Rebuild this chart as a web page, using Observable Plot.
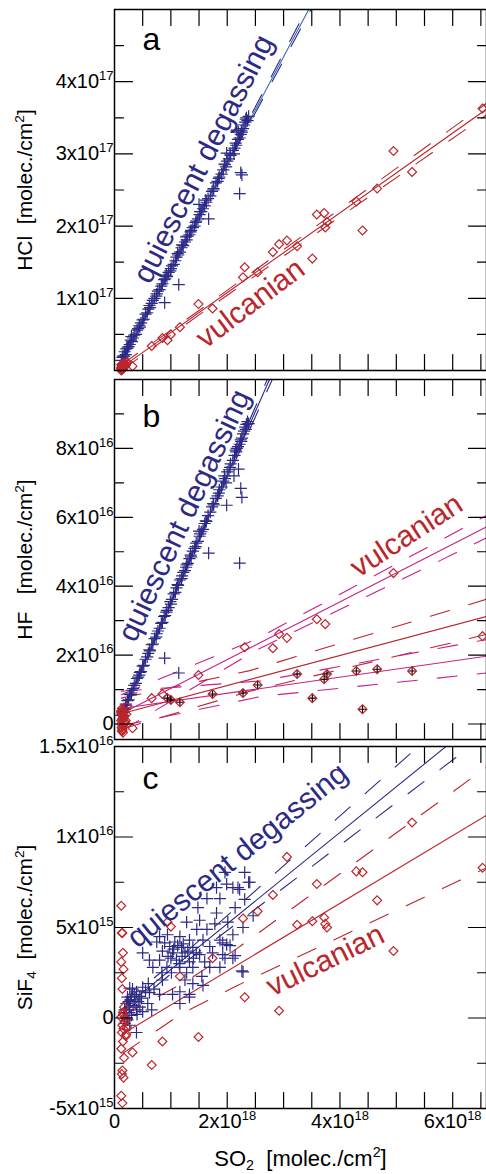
<!DOCTYPE html>
<html><head><meta charset="utf-8">
<script src="https://cdn.jsdelivr.net/npm/d3@7"></script>
<script src="https://cdn.jsdelivr.net/npm/@observablehq/plot@0.6"></script>
<style>
body{margin:0;background:#fff;}
#chart{position:relative;width:486px;height:1174px;}
</style></head><body><div id="chart"></div>
<script>
// ---------- DATA (SO2 in 1e18, HCl in 1e17, HF in 1e16, SiF4 in 1e15 molec/cm2) ----------
// quiescent degassing, panels a & b (same measurements)
const qSO2 = [0.12,0.14,0.15,0.17,0.18,0.20,0.21,0.23,0.25,0.27,0.29,0.31,0.33,0.35,0.38,0.40,0.42,0.45,0.47,0.50,0.52,0.55,0.58,0.60,0.63,0.66,0.68,0.71,0.74,0.77,0.80,0.83,0.85,0.88,0.90,0.93,0.96,0.99,1.02,1.05,1.08,1.10,1.13,1.16,1.19,1.22,1.25,1.28,1.30,1.33,1.36,1.39,1.42,1.45,1.48,1.51,1.54,1.57,1.60,1.63,1.66,1.70,1.73,1.76,1.80,1.83,1.86,1.90,1.93,1.96,2.00,2.03,2.06,2.10,2.13,2.16,2.19,2.22,2.24,2.26,2.28,2.30,2.32,2.34,2.36,
  0.30,0.44,0.62,0.75,0.92,1.00,1.12,1.20,1.27,1.35,1.44,1.52,1.62,1.75,1.85,1.95,2.05,2.15,2.25,2.33,2.38,2.20,2.12,1.98,
  0.89,1.14,1.67,2.22,2.26,2.24,1.99,1.50,2.17];
const qHCl = [0.14,0.18,0.20,0.20,0.26,0.22,0.30,0.31,0.33,0.36,0.42,0.40,0.45,0.49,0.50,0.56,0.58,0.60,0.66,0.70,0.71,0.78,0.80,0.85,0.87,0.93,0.97,1.00,1.03,1.10,1.12,1.17,1.20,1.26,1.27,1.30,1.36,1.38,1.45,1.47,1.52,1.57,1.60,1.64,1.70,1.73,1.78,1.81,1.86,1.88,1.94,1.98,2.00,2.07,2.10,2.16,2.20,2.24,2.28,2.33,2.38,2.42,2.48,2.52,2.60,2.62,2.68,2.72,2.78,2.85,2.90,2.93,2.98,3.05,3.08,3.12,3.20,3.22,3.27,3.30,3.35,3.40,3.44,3.50,3.46,
  0.47,0.62,0.90,1.06,1.32,1.41,1.62,1.74,1.85,1.92,2.05,2.20,2.36,2.50,2.66,2.86,3.00,3.15,3.32,3.48,3.52,3.30,3.00,2.82,
  0.94,1.19,2.10,2.45,2.71,2.74,3.01,2.30,3.33];
const qHF = [0.25,0.36,0.33,0.45,0.42,0.58,0.55,0.68,0.70,0.86,0.85,0.98,1.03,1.12,1.18,1.32,1.36,1.50,1.52,1.68,1.70,1.88,1.95,2.05,2.12,2.30,2.32,2.48,2.52,2.70,2.78,2.92,2.95,3.12,3.15,3.30,3.38,3.55,3.62,3.78,3.82,3.95,4.02,4.18,4.22,4.40,4.45,4.62,4.66,4.80,4.85,5.02,5.10,5.25,5.30,5.45,5.58,5.65,5.82,5.88,6.05,6.15,6.30,6.36,6.55,6.62,6.80,6.88,7.05,7.12,7.32,7.38,7.55,7.65,7.80,7.90,8.05,8.12,8.25,8.30,8.42,8.50,8.62,8.70,8.78,
  0.90,1.42,2.15,2.62,3.25,3.48,4.05,4.30,4.55,4.90,5.15,5.52,5.90,6.40,6.70,7.20,7.45,7.95,8.20,8.55,8.72,7.40,7.20,7.00,
  1.91,1.48,4.96,4.67,6.58,6.84,6.35,5.60,8.00];
// quiescent degassing, panel c
const qcSO2 = [1.96,2.31,2.38,1.81,1.99,2.10,2.22,1.64,1.87,2.31,1.48,1.81,1.28,1.51,2.01,2.28,1.64,1.78,1.46,2.10,0.80,0.94,1.16,0.75,0.89,1.07,1.33,1.57,1.87,1.99,0.98,1.19,1.39,1.69,0.50,0.85,1.03,1.25,1.51,1.74,1.92,2.10,0.62,0.80,1.10,1.33,1.60,0.68,0.93,1.16,1.39,1.69,1.87,0.84,1.01,1.28,1.55,2.28,0.85,1.25,1.39,1.57,0.27,0.39,0.50,0.62,0.80,1.03,1.16,1.33,0.23,0.36,0.48,0.59,0.27,0.39,0.50,0.66,1.16,0.30,0.23,0.39,0.27,0.18,0.21,2.19,2.40,2.14,2.46,2.05,2.14,2.26,1.96,1.92,1.33,0.20,0.25,0.30,0.33,0.35,0.42,0.45,0.40,0.22,0.28,0.18,0.55,0.32,0.60,0.70,0.45,0.26,1.05,1.12,1.20,1.00,1.30,1.40,1.15,0.95,1.45,1.22];
const qcSiF4 = [8.05,8.05,7.5,7.2,7.4,7.2,7.1,6.6,6.6,6.55,6.1,5.8,5.3,5.4,5.3,5.0,4.9,5.2,4.9,4.6,4.5,4.6,4.5,4.2,4.15,4.2,4.3,4.3,4.3,4.05,3.95,3.9,3.9,3.95,3.6,3.7,3.6,3.6,3.5,3.6,3.5,3.3,3.2,3.2,3.2,3.1,3.1,2.8,2.8,2.8,2.8,2.8,2.8,2.5,2.5,2.5,2.3,2.55,2.1,2.1,1.9,1.8,1.65,1.45,1.7,1.4,1.3,1.3,1.45,1.3,1.15,1.0,1.1,0.8,0.6,0.45,0.35,0.45,0.8,0.15,-0.1,-0.8,-0.4,0.45,0.8,7.2,7.5,6.1,5.65,4.0,3.45,2.6,3.3,4.15,1.15,0.3,0.9,1.2,0.7,1.3,0.9,1.2,0.2,0.0,1.0,-0.3,1.5,1.6,1.9,1.6,0.6,0.3,3.8,4.0,3.4,3.3,3.7,3.3,3.0,3.4,3.6,4.1];
// vulcanian events (same events in all panels)
const vSO2  = [0.32,0.66,0.85,0.94,1.00,1.16,1.49,1.74,2.28,2.31,2.54,2.81,2.92,3.06,3.24,3.51,3.59,3.72,3.74,3.77,4.29,4.40,4.66,4.95,5.28,6.53];
const vHCl  = [0.06,0.34,0.45,0.42,0.50,0.60,0.92,0.86,1.29,1.43,1.36,1.64,1.75,1.80,1.72,1.55,2.16,2.18,1.98,2.06,2.34,1.94,2.52,3.04,2.75,3.63];
const vHF   = [-0.12,0.75,0.87,0.75,0.70,0.63,1.42,0.87,0.90,2.23,1.13,2.20,2.61,2.50,1.45,0.75,3.04,1.30,2.90,1.45,1.54,0.43,1.59,4.38,1.54,2.55];
const vHFGroup = ["open","open","open","cross","cross","cross","open","cross","cross","open","cross","open","open","open","cross","cross","open","cross","open","cross","cross","cross","cross","open","cross","open"];
const vSiF4 = [-1.9,-2.6,-1.3,5.3,5.05,2.3,-1.05,3.3,5.5,1.15,5.9,6.8,0.4,8.9,5.15,5.35,7.4,5.55,5.2,5.0,8.1,8.05,6.5,3.7,10.8,8.3];
// vulcanian, low-SO2 cluster
const cSO2  = [0.12,0.14,0.13,0.15,0.12,0.16,0.13,0.14,0.17,0.15,0.12,0.18,0.14,0.16,0.13,0.20,0.15,0.12,0.17,0.14,0.13,0.16,0.12,0.14,0.19,0.22,0.15,0.21];
const cHCl  = [0.04,0.02,0.06,0.03,0.08,0.05,0.01,0.07,0.04,0.09,0.03,0.06,0.02,0.05,0.08,0.07,0.04,0.00,0.06,0.03,0.05,0.10,0.02,0.07,0.09,0.12,0.05,0.11];
const cHF   = [0.10,0.30,-0.10,0.20,0.00,0.40,-0.20,0.15,0.25,-0.05,0.35,0.05,-0.15,0.20,0.45,0.10,-0.25,0.30,0.00,0.12,-0.10,0.22,0.38,-0.20,0.05,0.50,0.15,0.28];
const cSiF4 = [6.2,4.7,4.7,3.6,3.1,2.7,2.2,1.6,0.6,0.3,0.05,-0.2,-0.4,-0.6,-0.8,-1.0,-1.3,-1.7,-2.2,-2.9,-3.1,-3.3,-4.3,-4.7,0.0,-0.5,0.2,-0.9];
// regression lines and confidence bounds, [SO2, gas] points
const fitA_qSolid = [[0.12,0.12],[3.48,5.05]];
const fitA_qUpper = [[0.12,0.15],[1.3,1.87],[3.44,5.05]];
const fitA_qLower = [[0.12,0.09],[1.3,1.83],[3.52,5.05]];
const fitA_vSolid = [[0.12,0.04],[6.6,3.62]];
const fitA_vUpper = [[0.12,0.08],[1.5,0.83],[6.6,3.70]];
const fitA_vLower = [[0.12,0.00],[1.5,0.77],[6.6,3.54]];
const fitB_qSolid = [[0.10,0.18],[2.75,10.0]];
const fitB_qUpper = [[0.10,0.26],[1.2,4.29],[2.71,10.0]];
const fitB_qLower = [[0.10,0.10],[1.2,4.23],[2.80,10.0]];
const fitB_openSolid = [[0.12,0.30],[6.6,5.72]];
const fitB_openUpper = [[0.12,0.85],[2.5,2.45],[6.6,6.05]];
const fitB_openLower = [[0.12,-0.20],[2.5,2.13],[6.6,5.40]];
const fitB_allSolid = [[0.12,0.30],[6.6,3.12]];
const fitB_allUpper = [[0.12,0.75],[2.4,1.55],[6.6,3.62]];
const fitB_allLower = [[0.12,-0.15],[2.4,0.95],[6.6,2.60]];
const fitB_crossSolid = [[0.12,0.45],[6.6,1.97]];
const fitB_crossUpper = [[0.12,0.95],[2.6,1.25],[6.6,2.45]];
const fitB_crossLower = [[0.12,-0.05],[2.6,0.80],[6.6,1.48]];
const fitC_qSolid = [[0.15,0.53],[6.0,15.3]];
const fitC_qUpper = [[0.15,0.85],[1.2,3.45],[5.5,15.3]];
const fitC_qLower = [[0.15,0.25],[1.2,2.95],[6.4,15.2]];
const fitC_vSolid = [[0.15,-0.87],[6.6,11.2]];
const fitC_vUpper = [[0.15,0.15],[1.2,1.9],[2.17,3.83],[6.6,13.85]];
const fitC_vLower = [[0.15,-1.95],[1.2,0.25],[2.17,1.78],[6.6,8.3]];
// axes
const xTickVals = [0.5,1,1.5,2,2.5,3,3.5,4,4.5,5,5.5,6,6.5];
const xLabelVals = [0,2,4,6];
const xLabels = ["0","2x10^{18}","4x10^{18}","6x10^{18}"];
const aMajor = [1,2,3,4], aMinor = [0.5,1.5,2.5,3.5,4.5];
const aLabelVals = [1,2,3,4], aLabels = ["1x10^{17}","2x10^{17}","3x10^{17}","4x10^{17}"];
const bMajor = [0,2,4,6,8], bMinor = [1,3,5,7,9];
const bLabelVals = [0,2,4,6,8], bLabels = ["0","2x10^{16}","4x10^{16}","6x10^{16}","8x10^{16}"];
const cMajor = [0,5,10], cMinor = [-2.5,2.5,7.5,12.5];
const cLabelVals = [-5,0,5,10,15], cLabels = ["-5x10^{15}","0","5x10^{15}","1x10^{16}","1.5x10^{16}"];
const titleA = "HCl\u00a0\u00a0[molec./cm^{2}]";
const titleB = "HF\u00a0\u00a0\u00a0[molec./cm^{2}]";
const titleC = "SiF_{4}\u00a0\u00a0[molec./cm^{2}]";
const titleX = "SO_{2}\u00a0\u00a0[molec./cm^{2}]";

// ---------- rendering ----------
const NAVY="#2c2a84", RED="#bb262c", MAGENTA="#c81f8c", BLUE="#3a6ab6";
const FONT='"Liberation Sans", Arial, Helvetica, sans-serif';
const DASH="20,20";
const tickShape={draw(c,l){c.moveTo(0,0);c.lineTo(0,-l);}};

const qRows = qSO2.map((s,i)=>({so2:s, hcl:qHCl[i], hf:qHF[i]}));
const qcRows = qcSO2.map((s,i)=>({so2:s, sif4:qcSiF4[i]}));
const vRows = vSO2.map((s,i)=>({so2:s, hcl:vHCl[i], hf:vHF[i], grp:vHFGroup[i], sif4:vSiF4[i]}));
const cRows = cSO2.map((s,i)=>({so2:s, hcl:cHCl[i], hf:cHF[i], sif4:cSiF4[i]}));

function fit(pts, stroke, dashed, w=1.1){
  const o = {x:d=>d[0], y:d=>d[1], stroke, strokeWidth:w, clip:true};
  if (dashed) o.strokeDasharray = DASH;
  return Plot.line(pts, o);
}
const plus = (rows, y) => Plot.dot(rows, {x:"so2", y, symbol:"plus", r:4, stroke:NAVY, strokeWidth:1.2});
const diamond = (rows, y) => Plot.dot(rows, {x:"so2", y, symbol:"diamond2", r:4, stroke:RED, strokeWidth:1.2, fill:"none"});
const note = (label, x, y, angle, color) => Plot.text([label], {x:()=>x, y:()=>y, text:d=>d, rotate:angle, fill:color, fontSize:30, textAnchor:"middle", lineAnchor:"middle"});

function richText(root){
  root.querySelectorAll("text").forEach(t=>{
    const targets = t.querySelector("tspan") ? [...t.querySelectorAll("tspan")] : [t];
    for (const n of targets){
      const s = n.textContent;
      if (!/[\^_]\{/.test(s)) continue;
      while (n.firstChild) n.removeChild(n.firstChild);
      const re = /([\^_])\{([^}]*)\}/g;
      let last=0, m, pending=0;
      const add=(str, attrs)=>{
        const ts=document.createElementNS("http://www.w3.org/2000/svg","tspan");
        for (const k in attrs) ts.setAttribute(k, attrs[k]);
        ts.textContent=str; n.appendChild(ts);
      };
      while ((m=re.exec(s))){
        if (m.index>last){ add(s.slice(last,m.index), pending?{dy:pending+"em"}:{}); pending=0; }
        if (m[1]==="^"){ add(m[2], {"font-size":"65%", dy:(pending/0.65-0.62).toFixed(3)+"em"}); pending=0.40; }
        else { add(m[2], {"font-size":"65%", dy:(pending/0.65+0.3).toFixed(3)+"em"}); pending=-0.195; }
        last=re.lastIndex;
      }
      if (last<s.length) add(s.slice(last), pending?{dy:pending+"em"}:{});
    }
  });
}

function panel(cfg){
  const fmtMap = new Map(cfg.labelVals.map((v,i)=>[v,cfg.labels[i]]));
  const tk = {anchor:"start", shape:tickShape, stroke:"black", strokeWidth:1.2};
  const svg = Plot.plot({
    width:486, height:cfg.height, marginLeft:114, marginRight:0, marginTop:cfg.mt, marginBottom:cfg.mb,
    x:{domain:[0,6.6], axis:null}, y:{domain:cfg.domain, axis:null},
    style:{background:"transparent", overflow:"visible", fontFamily:FONT, fontSize:"20px", color:"black"},
    marks:[
      ...cfg.marks,
      Plot.frame({stroke:"black", strokeWidth:1.5}),
      Plot.vector(xTickVals, {x:d=>d, frameAnchor:"bottom", length:16, rotate:0, ...tk}),
      Plot.vector(xTickVals, {x:d=>d, frameAnchor:"top", length:16, rotate:180, ...tk}),
      Plot.vector(cfg.major, {y:d=>d, frameAnchor:"left", length:18, rotate:90, ...tk}),
      Plot.vector(cfg.minor, {y:d=>d, frameAnchor:"left", length:9, rotate:90, ...tk}),
      Plot.vector(cfg.major, {y:d=>d, frameAnchor:"right", length:18, rotate:-90, ...tk}),
      Plot.vector(cfg.minor, {y:d=>d, frameAnchor:"right", length:9, rotate:-90, ...tk}),
      Plot.axisY({ticks:cfg.labelVals, tickFormat:d=>fmtMap.get(d), anchor:"left", tickSize:0, tickPadding:1, label:null, fontSize:20}),
      Plot.text([cfg.title], {text:d=>d, frameAnchor:"left", dx:-89, rotate:-90, fontSize:21, textAnchor:"middle", lineAnchor:"middle"}),
      Plot.text([cfg.letter], {text:d=>d, frameAnchor:"top-left", dx:28, dy:cfg.letterDy, textAnchor:"start", lineAnchor:"top", fontSize:32}),
      ...(cfg.extra||[])
    ]
  });
  richText(svg);
  svg.style.position="absolute"; svg.style.left="0px"; svg.style.top=cfg.top+"px";
  document.getElementById("chart").append(svg);
}

panel({top:0, height:374, mt:9, mb:4, domain:[0,5], major:aMajor, minor:aMinor,
  labelVals:aLabelVals, labels:aLabels, title:titleA, letter:"a", letterDy:18,
  marks:[
    fit(fitA_vUpper, RED, true), fit(fitA_vLower, RED, true), fit(fitA_vSolid, RED, false),
    fit(fitA_qUpper, NAVY, true), fit(fitA_qLower, NAVY, true), fit(fitA_qSolid, BLUE, false),
    plus(qRows, "hcl"), diamond(vRows, "hcl"), diamond(cRows, "hcl"),
    note("quiescent degassing", 1.58, 2.93, -63, NAVY),
    note("vulcanian", 2.41, 0.93, -37, RED)
  ]});

panel({top:374, height:368, mt:5, mb:3, domain:[-0.45,10], major:bMajor, minor:bMinor,
  labelVals:bLabelVals, labels:bLabels, title:titleB, letter:"b", letterDy:25,
  marks:[
    fit(fitB_openUpper, MAGENTA, true), fit(fitB_openLower, MAGENTA, true), fit(fitB_openSolid, MAGENTA, false),
    fit(fitB_allUpper, RED, true), fit(fitB_allLower, RED, true), fit(fitB_allSolid, RED, false),
    fit(fitB_crossUpper, MAGENTA, true), fit(fitB_crossLower, MAGENTA, true), fit(fitB_crossSolid, MAGENTA, false),
    fit(fitB_qUpper, NAVY, true), fit(fitB_qLower, NAVY, true), fit(fitB_qSolid, NAVY, false),
    plus(qRows, "hf"), diamond(vRows, "hf"), diamond(cRows, "hf"),
    Plot.dot(vRows.filter(d=>d.grp==="cross"), {x:"so2", y:"hf", symbol:"plus", r:2.4, stroke:"black", strokeWidth:1.1}),
    note("quiescent degassing", 1.24, 6.05, -65, NAVY),
    note("vulcanian", 5.18, 5.47, -33, RED)
  ]});

panel({top:742, height:432, mt:4, mb:66, domain:[-5,15], major:cMajor, minor:cMinor,
  labelVals:cLabelVals, labels:cLabels, title:titleC, letter:"c", letterDy:20,
  marks:[
    fit(fitC_vUpper, RED, true), fit(fitC_vLower, RED, true), fit(fitC_vSolid, RED, false),
    fit(fitC_qUpper, NAVY, true), fit(fitC_qLower, NAVY, true), fit(fitC_qSolid, NAVY, false),
    plus(qcRows, "sif4"), diamond(vRows, "sif4"), diamond(cRows, "sif4"),
    note("quiescent degassing", 2.18, 8.98, -39, NAVY),
    note("vulcanian", 3.74, 3.18, -26, RED)
  ],
  extra:[
    Plot.axisX({ticks:xLabelVals, tickFormat:d=>new Map(xLabelVals.map((v,i)=>[v,xLabels[i]])).get(d), anchor:"bottom", tickSize:0, tickPadding:5, label:null, fontSize:20}),
    Plot.text([titleX], {text:d=>d, frameAnchor:"bottom", dy:50, fontSize:22, textAnchor:"middle", lineAnchor:"middle"})
  ]});
</script></body></html>
